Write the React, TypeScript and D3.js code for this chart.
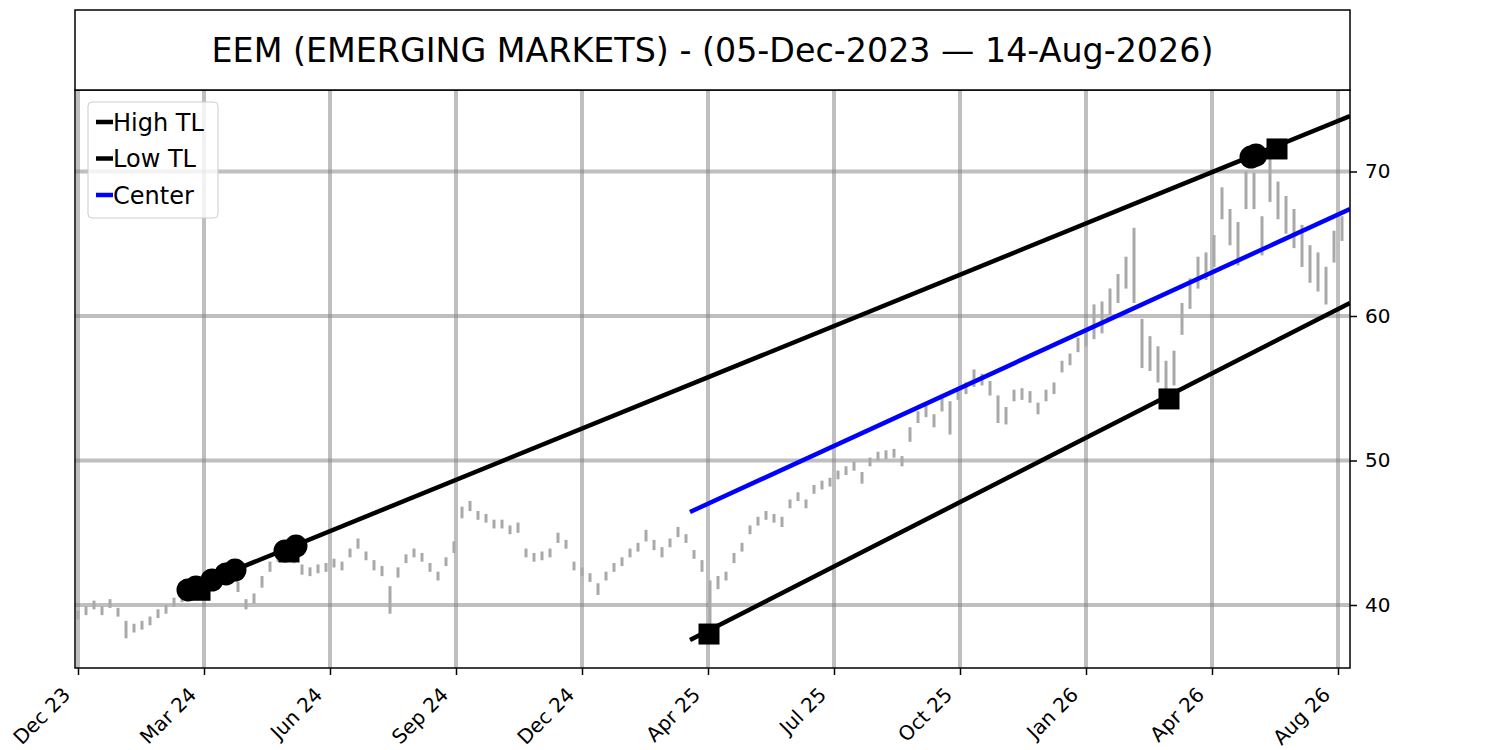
import * as d3 from "d3";
import { useEffect, useRef } from "react";

const W = 1500;
const H = 750;
const FONT = "DejaVu Sans, sans-serif";

const title = "EEM (EMERGING MARKETS) - (05-Dec-2023 \u2014 14-Aug-2026)";

// x axis runs on trading-bar index
const xTickIdx = [0, 63, 126, 189, 252, 315, 378, 441, 504, 567, 630];
const xTickLabels = ["Dec 23", "Mar 24", "Jun 24", "Sep 24", "Dec 24", "Apr 25", "Jul 25", "Oct 25", "Jan 26", "Apr 26", "Aug 26"];
const yTicks = [40, 50, 60, 70];

// price ranges, one sample every 4 bars
const barStep = 4;
const lows = [
  39.1, 39.4, 39.8, 39.4, 39.9, 39.3, 37.8, 38.2, 38.4, 38.7,
  39.2, 39.5, 40.0, 40.3, 40.6, 40.8, 41.0, 41.3, 41.5, 41.6,
  41.0, 39.8, 40.2, 41.3, 42.4, 43.1, 43.4, 43.0, 42.2, 42.1,
  42.3, 42.4, 42.7, 42.5, 43.4, 44.0, 43.2, 42.5, 42.1, 39.5,
  42.0, 43.0, 43.4, 43.1, 42.4, 41.8, 42.8, 43.7, 46.1, 46.6,
  46.0, 45.8, 45.4, 45.4, 45.0, 45.1, 43.4, 43.1, 43.2, 43.4,
  44.4, 44.0, 42.5, 42.1, 41.7, 40.8, 41.8, 42.4, 42.8, 43.4,
  43.8, 44.5, 43.9, 43.4, 44.1, 44.8, 44.4, 43.3, 42.4, 37.7,
  41.2, 41.8, 43.0, 43.8, 45.0, 45.6, 46.0, 45.8, 45.5, 46.8,
  47.3, 46.8, 47.8, 48.1, 48.3, 48.8, 49.1, 49.4, 48.5, 49.7,
  50.1, 50.2, 50.3, 49.7, 51.4, 52.7, 53.1, 52.4, 53.5, 51.9,
  54.3, 54.7, 55.2, 55.3, 54.6, 52.7, 52.6, 54.2, 54.3, 54.1,
  53.3, 54.2, 54.7, 56.2, 56.7, 57.6, 58.0, 58.5, 58.9, 60.2,
  61.0, 62.0, 61.0, 56.5, 56.3, 55.5, 54.7, 55.3, 58.8, 60.6,
  62.0, 62.6, 63.5, 66.8, 65.0, 63.6, 67.5, 67.5, 64.3, 68.0,
  66.8, 65.8, 64.8, 63.5, 62.4, 61.8, 60.9, 63.8, 65.3,
];
const highs = [
  39.5, 39.8, 40.2, 39.8, 40.3, 39.7, 38.8, 38.6, 38.8, 39.1,
  39.6, 39.9, 40.4, 40.7, 41.0, 41.2, 41.4, 41.7, 41.9, 42.0,
  41.5, 40.3, 40.7, 41.9, 42.9, 43.5, 43.9, 43.5, 42.7, 42.5,
  42.7, 42.8, 43.1, 42.9, 43.8, 44.5, 43.6, 43.0, 42.6, 41.2,
  42.5, 43.4, 43.8, 43.5, 42.8, 42.2, 43.2, 44.3, 46.7, 47.1,
  46.4, 46.2, 45.8, 45.8, 45.4, 45.6, 43.8, 43.5, 43.6, 43.8,
  44.9, 44.4, 42.9, 42.5, 42.1, 41.4, 42.2, 42.8, 43.2, 43.8,
  44.2, 45.1, 44.4, 43.9, 44.5, 45.3, 44.8, 43.7, 43.0, 41.6,
  41.9, 42.2, 43.5, 44.2, 45.4, 46.0, 46.4, 46.2, 46.0, 47.2,
  47.7, 47.2, 48.2, 48.5, 48.7, 49.2, 49.5, 49.8, 49.1, 50.1,
  50.5, 50.6, 50.7, 50.2, 52.2, 53.3, 53.7, 53.1, 54.2, 54.0,
  54.9, 55.3, 56.2, 55.9, 55.4, 54.4, 53.6, 54.8, 54.9, 54.7,
  53.9, 54.8, 55.3, 56.8, 57.3, 58.4, 59.0, 60.7, 60.9, 61.8,
  62.8, 64.0, 66.0, 59.7, 58.5, 57.8, 56.8, 57.5, 60.8, 62.5,
  64.0, 64.3, 65.5, 68.8, 67.3, 66.4, 69.9, 69.8, 66.8, 70.8,
  69.2, 68.2, 67.3, 66.2, 64.8, 64.3, 63.3, 65.8, 66.8,
];

// trend lines: [bar index, price] at each end
const highTL: [number, number][] = [[53, 41.0], [636, 73.84]];
const lowTL: [number, number][] = [[306, 37.58], [636, 60.9]];
const centerTL: [number, number][] = [[306, 46.44], [636, 67.4]];

// touch points
const circleIdx = [55, 59, 67, 74, 78.5, 103.5, 109, 586.5, 589];
const circleVal = [41.04, 41.25, 41.73, 42.15, 42.42, 43.74, 44.08, 71.0, 71.14];
const squareIdx = [61, 105.5, 315.5, 545.5, 599.5];
const squareVal = [41.02, 43.67, 37.99, 54.26, 71.56];

const legendItems = [
  { label: "High TL", color: "#000000" },
  { label: "Low TL", color: "#000000" },
  { label: "Center", color: "#0000ff" },
];

export default function App() {
  const svgRef = useRef<SVGSVGElement>(null);

  useEffect(() => {
    if (!svgRef.current) return;
    const svg = d3.select(svgRef.current);
    svg.selectAll("*").remove();

    const left = 75,
      right = 1350,
      top = 90,
      bottom = 668;

    const x = d3.scaleLinear().domain([-1.5, 636]).range([left, right]);
    const y = d3.scaleLinear().domain([35.64, 75.64]).range([bottom, top]);

    svg.append("rect").attr("width", W).attr("height", H).attr("fill", "#ffffff");

    svg
      .append("defs")
      .append("clipPath")
      .attr("id", "plotclip")
      .append("rect")
      .attr("x", left)
      .attr("y", top)
      .attr("width", right - left)
      .attr("height", bottom - top);

    // grid
    const grid = svg.append("g").attr("clip-path", "url(#plotclip)");
    grid
      .selectAll("line.v")
      .data(xTickIdx)
      .enter()
      .append("line")
      .attr("x1", (d) => x(d))
      .attr("x2", (d) => x(d))
      .attr("y1", top)
      .attr("y2", bottom)
      .attr("stroke", "#808080")
      .attr("stroke-opacity", 0.5)
      .attr("stroke-width", 4);
    grid
      .selectAll("line.h")
      .data(yTicks)
      .enter()
      .append("line")
      .attr("x1", left)
      .attr("x2", right)
      .attr("y1", (d) => y(d))
      .attr("y2", (d) => y(d))
      .attr("stroke", "#808080")
      .attr("stroke-opacity", 0.5)
      .attr("stroke-width", 4);

    const g = svg.append("g").attr("clip-path", "url(#plotclip)");

    // price bars
    g.selectAll("line.bar")
      .data(lows)
      .enter()
      .append("line")
      .attr("x1", (d, i) => x(i * barStep))
      .attr("x2", (d, i) => x(i * barStep))
      .attr("y1", (d) => y(d) + 1.5)
      .attr("y2", (d, i) => y(highs[i]) - 1.5)
      .attr("stroke", "#a9a9a9")
      .attr("stroke-width", 3);

    const line = d3
      .line<[number, number]>()
      .x((d) => x(d[0]))
      .y((d) => y(d[1]));

    g.append("path").attr("d", line(highTL)).attr("stroke", "#000").attr("stroke-width", 4.5).attr("fill", "none");
    g.append("path").attr("d", line(lowTL)).attr("stroke", "#000").attr("stroke-width", 4.5).attr("fill", "none");
    g.append("path").attr("d", line(centerTL)).attr("stroke", "#0000ff").attr("stroke-width", 4.5).attr("fill", "none");

    // markers
    svg
      .append("g")
      .selectAll("circle")
      .data(circleIdx)
      .enter()
      .append("circle")
      .attr("cx", (d) => x(d))
      .attr("cy", (d, i) => y(circleVal[i]))
      .attr("r", 11.5)
      .attr("fill", "#000");
    svg
      .append("g")
      .selectAll("rect")
      .data(squareIdx)
      .enter()
      .append("rect")
      .attr("x", (d) => x(d) - 10.5)
      .attr("y", (d, i) => y(squareVal[i]) - 10.5)
      .attr("width", 21)
      .attr("height", 21)
      .attr("fill", "#000");

    // axes
    const xAxis = svg
      .append("g")
      .attr("transform", `translate(0,${bottom})`)
      .call(
        d3
          .axisBottom(x)
          .tickValues(xTickIdx)
          .tickFormat((d, i) => xTickLabels[i])
          .tickSize(7)
          .tickSizeOuter(0)
      );
    xAxis.select(".domain").remove();
    xAxis.selectAll("line").attr("stroke", "#000").attr("stroke-width", 1.5);
    xAxis
      .selectAll("text")
      .attr("x", 0)
      .attr("y", 0)
      .attr("dy", null)
      .attr("text-anchor", "end")
      .attr("transform", "translate(-7,28) rotate(-45)")
      .attr("font-size", 20)
      .attr("font-family", FONT)
      .attr("fill", "#000");

    const yAxis = svg
      .append("g")
      .attr("transform", `translate(${right},0)`)
      .call(d3.axisRight(y).tickValues(yTicks).tickSize(7).tickSizeOuter(0).tickPadding(8));
    yAxis.select(".domain").remove();
    yAxis.selectAll("line").attr("stroke", "#000").attr("stroke-width", 1.5);
    yAxis.selectAll("text").attr("font-size", 20).attr("font-family", FONT).attr("fill", "#000");

    // frame
    svg
      .append("rect")
      .attr("x", left)
      .attr("y", top)
      .attr("width", right - left)
      .attr("height", bottom - top)
      .attr("fill", "none")
      .attr("stroke", "#000")
      .attr("stroke-width", 1.5);

    // title box
    svg
      .append("rect")
      .attr("x", left)
      .attr("y", 10)
      .attr("width", right - left)
      .attr("height", top - 10)
      .attr("fill", "#fff")
      .attr("stroke", "#000")
      .attr("stroke-width", 1.5);
    svg
      .append("text")
      .attr("x", (left + right) / 2)
      .attr("y", 50)
      .attr("dy", "0.35em")
      .attr("text-anchor", "middle")
      .attr("font-size", 33.3)
      .attr("font-family", FONT)
      .text(title);

    // legend
    const lg = svg.append("g").attr("transform", "translate(88,102)");
    lg.append("rect")
      .attr("width", 130)
      .attr("height", 116)
      .attr("rx", 4)
      .attr("fill", "#fff")
      .attr("fill-opacity", 0.8)
      .attr("stroke", "#cccccc")
      .attr("stroke-width", 1);
    const items = lg
      .selectAll("g.item")
      .data(legendItems)
      .enter()
      .append("g")
      .attr("transform", (d, i) => `translate(0,${20 + i * 36.5})`);
    items
      .append("line")
      .attr("x1", 8)
      .attr("x2", 25)
      .attr("y1", 0)
      .attr("y2", 0)
      .attr("stroke", (d) => d.color)
      .attr("stroke-width", 4.5);
    items
      .append("text")
      .attr("x", 25)
      .attr("y", 0)
      .attr("dy", "0.36em")
      .attr("font-size", 24)
      .attr("font-family", FONT)
      .text((d) => d.label);

    return () => {
      svg.selectAll("*").remove();
    };
  }, []);

  return (
    <div style={{ position: "absolute", left: 0, top: 0 }}>
      <svg ref={svgRef} width={W} height={H} />
    </div>
  );
}
